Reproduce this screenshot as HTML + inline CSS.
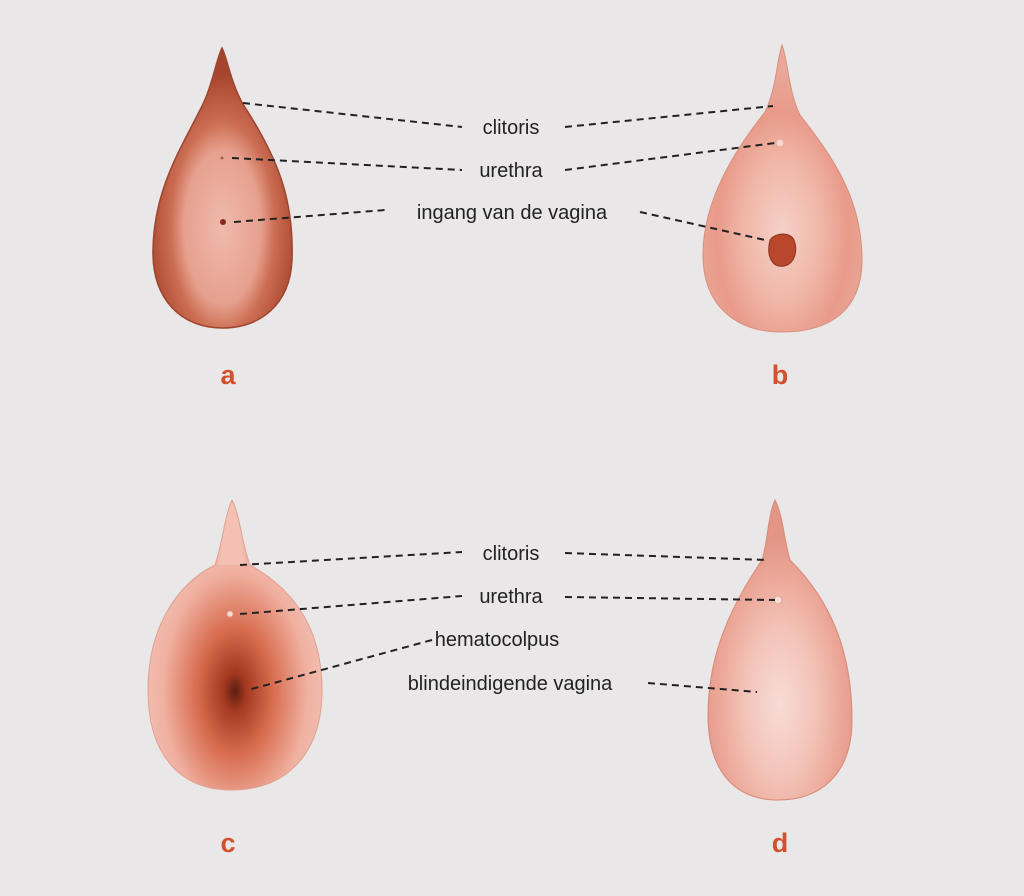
<!DOCTYPE html>
<html><head><meta charset="utf-8"><style>
html,body{margin:0;padding:0;background:#e9e7e7}
svg{display:block}
text{font-family:"Liberation Sans",sans-serif}
</style></head><body>
<svg width="1024" height="896" viewBox="0 0 1024 896" xmlns="http://www.w3.org/2000/svg">
<defs>
<radialGradient id="ga" cx="0.5" cy="0.64" r="0.55">
<stop offset="0" stop-color="#f0baad"/><stop offset="0.5" stop-color="#e6a08e"/><stop offset="0.68" stop-color="#cc6e53"/><stop offset="1" stop-color="#a6452d"/></radialGradient>
<radialGradient id="gb" cx="0.5" cy="0.65" r="0.55">
<stop offset="0" stop-color="#f6d0c8"/><stop offset="0.45" stop-color="#f0b6a7"/><stop offset="0.75" stop-color="#e99a89"/><stop offset="1" stop-color="#e8a798"/></radialGradient>
<radialGradient id="gc" cx="0.5" cy="0.66" r="0.55">
<stop offset="0" stop-color="#5a1e14"/><stop offset="0.12" stop-color="#a5391f"/><stop offset="0.4" stop-color="#d86d50"/><stop offset="0.75" stop-color="#f0b0a0"/><stop offset="1" stop-color="#f2c2b6"/></radialGradient>
<radialGradient id="gd" cx="0.5" cy="0.68" r="0.55">
<stop offset="0" stop-color="#f8dcd6"/><stop offset="0.45" stop-color="#f3c3b8"/><stop offset="0.8" stop-color="#eba596"/><stop offset="1" stop-color="#e39686"/></radialGradient>
</defs>

<!-- a -->
<path d="M222,48 C228,60 232,90 248,112 C278,160 294,200 292,260 C290,305 260,328 222,328 C182,328 152,300 153,250 C154,190 180,150 200,110 C212,88 216,60 222,48 Z" fill="url(#ga)" stroke="#9e4530" stroke-width="1.5"/>
<circle cx="223" cy="222" r="3" fill="#8a2a1a"/>
<circle cx="222" cy="158" r="1.5" fill="#b45a45"/>
<!-- b -->
<path d="M782,45 C788,60 788,90 800,115 C835,160 862,200 862,260 C862,310 830,332 782,332 C735,332 703,305 703,255 C703,200 735,150 765,112 C776,90 777,60 782,45 Z" fill="url(#gb)" stroke="#d88f7e" stroke-width="1"/>
<path d="M770,240 C776,232 790,232 794,240 C798,250 795,264 784,266 C772,268 766,256 770,240 Z" fill="#b8472c" stroke="#8a3320"/>
<circle cx="780" cy="143" r="4" fill="#f7d6cf" stroke="#e4a89a"/>
<!-- c -->
<path d="M232,500 C240,515 242,545 250,565 C295,590 322,630 322,690 C322,755 285,790 232,790 C180,790 148,755 148,690 C148,630 175,585 215,565 C222,545 225,515 232,500 Z" fill="url(#gc)" stroke="#e0a090" stroke-width="1"/>
<path d="M232,502 C238,520 240,545 246,565 L218,565 C224,545 226,520 232,502 Z" fill="#f3c0b3"/>
<circle cx="230" cy="614" r="3" fill="#f8dcd4" stroke="#e0a090"/>
<!-- d -->
<path d="M775,500 C783,515 784,540 790,560 C830,600 852,650 852,720 C852,775 820,800 778,800 C738,800 708,775 708,715 C708,650 735,600 762,560 C768,540 768,515 775,500 Z" fill="url(#gd)" stroke="#d98a78" stroke-width="1"/>
<circle cx="778" cy="600" r="4" fill="#f8dcd6" stroke="#e0a498"/>

<g stroke="#222" stroke-width="2" stroke-dasharray="7,5" fill="none">
<line x1="243" y1="103" x2="462" y2="127"/><line x1="565" y1="127" x2="773" y2="106"/>
<line x1="232" y1="158" x2="462" y2="170"/><line x1="565" y1="170" x2="775" y2="143"/>
<line x1="234" y1="222" x2="385" y2="210"/><line x1="640" y1="212" x2="765" y2="240"/>
<line x1="240" y1="565" x2="462" y2="552"/><line x1="565" y1="553" x2="768" y2="560"/>
<line x1="240" y1="614" x2="462" y2="596"/><line x1="565" y1="597" x2="775" y2="600"/>
<line x1="432" y1="640" x2="248" y2="690"/><line x1="648" y1="683" x2="757" y2="692"/>
</g>
<g font-size="20" fill="#222" text-anchor="middle">
<text x="511" y="134">clitoris</text>
<text x="511" y="177">urethra</text>
<text x="512" y="219">ingang van de vagina</text>
<text x="511" y="560">clitoris</text>
<text x="511" y="603">urethra</text>
<text x="497" y="646">hematocolpus</text>
<text x="510" y="690">blindeindigende vagina</text>
</g>
<g font-size="27" font-weight="bold" fill="#d2502e" text-anchor="middle">
<text x="228" y="384">a</text><text x="780" y="384">b</text>
<text x="228" y="852">c</text><text x="780" y="852">d</text>
</g>
</svg>
</body></html>
